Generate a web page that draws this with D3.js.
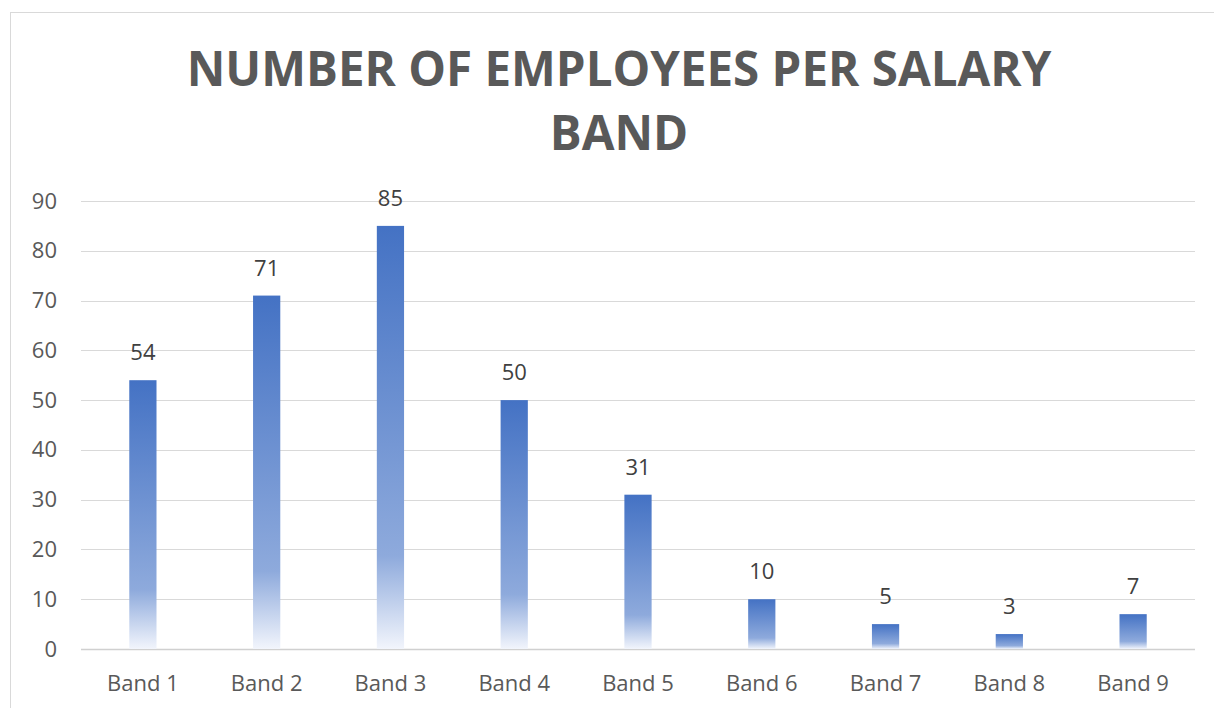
<!DOCTYPE html>
<html>
<head>
<meta charset="utf-8">
<script src="https://cdn.jsdelivr.net/npm/d3@7"></script>
<style>
  body { margin: 0; background: #fff; }
  svg { display: block; }
</style>
</head>
<body>
<div id="chart"></div>
<script>
// chart data
const bands = ['Band 1', 'Band 2', 'Band 3', 'Band 4', 'Band 5', 'Band 6', 'Band 7', 'Band 8', 'Band 9'];
const employees = [54, 71, 85, 50, 31, 10, 5, 3, 7];
const yTicks = [0, 10, 20, 30, 40, 50, 60, 70, 80, 90];
const titleLines = ['NUMBER OF EMPLOYEES PER SALARY', 'BAND'];

const WIDTH = 1214;
const HEIGHT = 708;
const PLOT = { left: 81, right: 1195, top: 201, bottom: 649 };

const svg = d3.select('#chart')
    .append('svg')
        .attr('width', WIDTH)
        .attr('height', HEIGHT);

// gradient used by every bar (per-bar bounding box)
const grad = svg.append('defs')
    .append('linearGradient')
        .attr('id', 'barFill')
        .attr('x1', 0).attr('y1', 0)
        .attr('x2', 0).attr('y2', 1);
grad.append('stop').attr('offset', '0%').attr('stop-color', '#4472c4');
grad.append('stop').attr('offset', '78%').attr('stop-color', '#8eaadc');
grad.append('stop').attr('offset', '100%').attr('stop-color', '#f2f5fc');

// chart frame
svg.append('rect')
    .attr('x', 10.5)
    .attr('y', 12.5)
    .attr('width', 1230)
    .attr('height', 720)
    .attr('fill', 'none')
    .attr('stroke', '#d9d9d9')
    .attr('stroke-width', 1);

// title
svg.append('text')
    .attr('text-anchor', 'middle')
    .attr('font-family', 'Open Sans, sans-serif')
    .attr('font-weight', 'bold')
    .attr('font-size', 47.5)
    .attr('fill', '#595959')
    .selectAll('tspan')
    .data(titleLines)
    .join('tspan')
        .attr('x', 619)
        .attr('y', (d, i) => 86 + i * 64)
        .text(d => d);

const x = d3.scaleBand()
    .domain(bands)
    .range([PLOT.left, PLOT.right])
    .paddingInner(0.78)
    .paddingOuter(0.39);

const y = d3.scaleLinear()
    .domain([0, 90])
    .range([PLOT.bottom, PLOT.top]);

// gridlines
svg.append('g')
    .selectAll('line')
    .data(yTicks)
    .join('line')
        .attr('x1', PLOT.left)
        .attr('x2', PLOT.right)
        .attr('y1', d => Math.round(y(d)) + 0.5)
        .attr('y2', d => Math.round(y(d)) + 0.5)
        .attr('stroke', d => d === 0 ? '#d0d0d0' : '#d9d9d9')
        .attr('stroke-width', d => d === 0 ? 1.5 : 1);

// y axis labels
const yAxis = d3.axisLeft(y)
    .tickValues(yTicks)
    .tickSize(0)
    .tickPadding(0);

svg.append('g')
    .attr('transform', 'translate(57,0)')
    .call(yAxis)
    .call(g => g.select('.domain').remove())
    .call(g => g.selectAll('text')
        .attr('font-family', 'Open Sans, sans-serif')
        .attr('font-size', 22)
        .attr('fill', '#595959'));

// x axis labels
const xAxis = d3.axisBottom(x)
    .tickSize(0)
    .tickPadding(0);

svg.append('g')
    .attr('transform', 'translate(0,' + (PLOT.bottom + 26) + ')')
    .call(xAxis)
    .call(g => g.select('.domain').remove())
    .call(g => g.selectAll('text')
        .attr('font-family', 'Open Sans, sans-serif')
        .attr('font-size', 22)
        .attr('fill', '#595959'));

// bars
svg.append('g')
    .selectAll('rect')
    .data(employees)
    .join('rect')
        .attr('x', (d, i) => x(bands[i]))
        .attr('y', d => y(d))
        .attr('width', x.bandwidth())
        .attr('height', d => y(0) - y(d))
        .attr('fill', 'url(#barFill)');

// data labels
svg.append('g')
    .selectAll('text')
    .data(employees)
    .join('text')
        .attr('x', (d, i) => x(bands[i]) + x.bandwidth() / 2)
        .attr('y', d => y(d) - 20)
        .attr('text-anchor', 'middle')
        .attr('font-family', 'Open Sans, sans-serif')
        .attr('font-size', 22)
        .attr('fill', '#404040')
        .text(d => d);
</script>
</body>
</html>
